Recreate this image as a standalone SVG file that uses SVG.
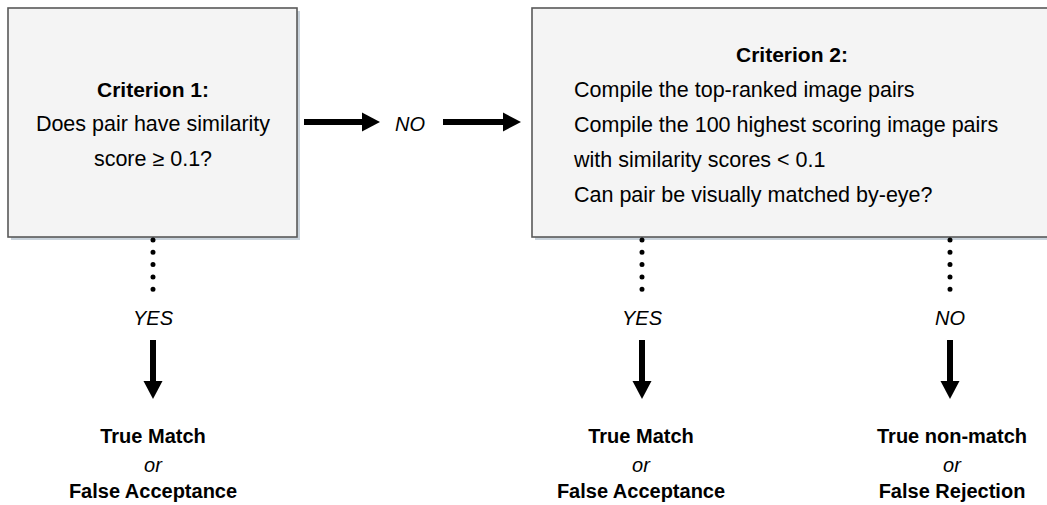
<svg xmlns="http://www.w3.org/2000/svg" width="1047" height="505" viewBox="0 0 1047 505">
<style>
.box{fill:#f4f4f4;stroke:#595959;stroke-width:1.6}
.shadow{fill:#c9d3dc}
.t{font-family:"Liberation Sans",Arial,sans-serif;font-size:21.5px;fill:#000}
.b{font-weight:bold;font-size:21px}
.o{font-family:"Liberation Sans",Arial,sans-serif;font-size:20px;font-weight:bold;fill:#000;text-anchor:middle}
.i{font-family:"Liberation Sans",Arial,sans-serif;font-size:20px;font-style:italic;fill:#000;text-anchor:middle}
.dots{stroke:#000;stroke-width:5;stroke-linecap:round;stroke-dasharray:0 12.3;fill:none}
.shaft{stroke:#000;stroke-width:6;fill:none}
</style>
<defs>
<marker id="ah" markerWidth="20" markerHeight="20" refX="0" refY="0" viewBox="-1 -10 20 20" markerUnits="userSpaceOnUse" orient="auto">
<path d="M0,-9.5 L18,0 L0,9.5 Z" fill="#000"/>
</marker>
</defs>
<rect width="1047" height="505" fill="#fff"/>
<g id="criterion1">
<rect class="shadow" x="11" y="11" width="289" height="229"/>
<rect class="box" x="8" y="8" width="289" height="229"/>
<text class="t b" x="153" y="97" text-anchor="middle">Criterion 1:</text>
<text class="t" x="153" y="131" text-anchor="middle">Does pair have similarity</text>
<text class="t" x="153" y="166" text-anchor="middle">score ≥ 0.1?</text>
</g>
<g id="criterion2">
<rect class="shadow" x="535" y="11" width="520" height="229"/>
<rect class="box" x="532" y="8" width="520" height="229"/>
<text class="t b" x="792" y="62" text-anchor="middle">Criterion 2:</text>
<text class="t" x="574" y="97">Compile the top-ranked image pairs</text>
<text class="t" x="574" y="132">Compile the 100 highest scoring image pairs</text>
<text class="t" x="574" y="167">with similarity scores &lt; 0.1</text>
<text class="t" x="574" y="202">Can pair be visually matched by-eye?</text>
</g>
<g id="connectors">
<line class="shaft" x1="304" y1="122" x2="362" y2="122" marker-end="url(#ah)"/>
<text class="i" x="410" y="131">NO</text>
<line class="shaft" x1="443" y1="122" x2="503" y2="122" marker-end="url(#ah)"/>
<line class="dots" x1="153" y1="240" x2="153" y2="292"/>
<text class="i" x="153" y="325">YES</text>
<line class="shaft" x1="153" y1="340" x2="153" y2="381" marker-end="url(#ah)"/>
<line class="dots" x1="642" y1="240" x2="642" y2="292"/>
<text class="i" x="642" y="325">YES</text>
<line class="shaft" x1="642" y1="340" x2="642" y2="381" marker-end="url(#ah)"/>
<line class="dots" x1="950" y1="240" x2="950" y2="292"/>
<text class="i" x="950" y="325">NO</text>
<line class="shaft" x1="950" y1="340" x2="950" y2="381" marker-end="url(#ah)"/>
</g>
<g id="outcome1">
<text class="o" x="153" y="443">True Match</text>
<text class="i" x="153" y="472">or</text>
<text class="o" x="153" y="498">False Acceptance</text>
</g>
<g id="outcome2">
<text class="o" x="641" y="443">True Match</text>
<text class="i" x="641" y="472">or</text>
<text class="o" x="641" y="498">False Acceptance</text>
</g>
<g id="outcome3">
<text class="o" x="952" y="443">True non-match</text>
<text class="i" x="952" y="472">or</text>
<text class="o" x="952" y="498">False Rejection</text>
</g>
</svg>
